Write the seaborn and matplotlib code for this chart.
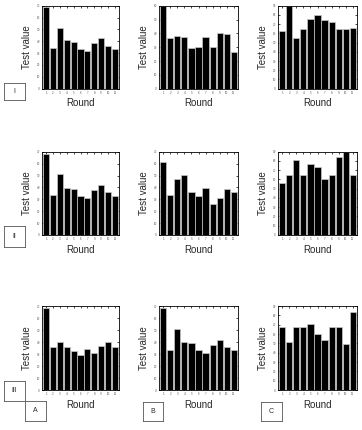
import numpy as np
import pandas as pd
import matplotlib
matplotlib.use("Agg")
import matplotlib.pyplot as plt
import seaborn as sns

# values, one list per panel (row I/II/III x column A/B/C)
rounds = [str(i) for i in range(1, 12)]

vals_I_A = [68.6, 34.6, 51.2, 40.8, 39.6, 33.5, 31.8, 38.8, 42.7, 36.0, 33.5]
vals_I_B = [60.0, 36.4, 38.3, 37.3, 29.2, 29.9, 37.3, 29.9, 40.5, 39.3, 26.5]
vals_I_C = [62.2, 90.0, 54.6, 64.3, 75.9, 79.9, 74.1, 71.9, 64.3, 64.3, 66.1]

vals_II_A = [68.0, 34.0, 51.0, 39.9, 39.0, 32.9, 31.0, 37.9, 42.1, 36.0, 32.9]
vals_II_B = [61.1, 34.0, 47.1, 50.2, 36.0, 32.9, 39.9, 25.9, 31.0, 39.0, 36.0]
vals_II_C = [55.9, 64.5, 81.4, 64.5, 76.4, 73.9, 60.6, 64.5, 84.6, 90.0, 64.5]

vals_III_A = [68.1, 35.6, 39.7, 35.6, 32.2, 29.2, 33.9, 31.1, 36.4, 39.7, 35.6]
vals_III_B = [68.1, 33.1, 50.8, 39.7, 38.9, 33.1, 31.1, 37.2, 41.9, 35.6, 33.1]
vals_III_C = [67.3, 51.7, 67.3, 67.3, 71.2, 60.2, 53.9, 67.3, 67.3, 49.6, 83.6]

# y-axis top for each column
ymax_I = [70, 60, 90]
ymax_II = [70, 70, 90]
ymax_III = [70, 70, 90]

row_labels = ["I", "II", "III"]
col_labels = ["A", "B", "C"]

panels = [
    [vals_I_A, vals_I_B, vals_I_C],
    [vals_II_A, vals_II_B, vals_II_C],
    [vals_III_A, vals_III_B, vals_III_C],
]
ymaxes = [ymax_I, ymax_II, ymax_III]

W, H = 362, 430
fig = plt.figure(figsize=(W / 100, H / 100), dpi=100)
sns.set_style("ticks")
plt.rcParams['font.family'] = ['Liberation Sans', 'DejaVu Sans']

# axes boxes in pixels: (left, top, right, bottom)
col_x = [(42, 119), (159, 238), (278, 357)]
row_y = [(5.7, 88.7), (151.7, 235), (306, 390)]


def px_axes(l, t, r, b):
    return fig.add_axes([l / W, 1 - b / H, (r - l) / W, (b - t) / H])


for i in range(3):
    for j in range(3):
        l, r = col_x[j]
        t, b = row_y[i]
        ax = px_axes(l, t, r, b)
        df = pd.DataFrame({"Round": rounds, "Test value": panels[i][j]})
        sns.barplot(data=df, x="Round", y="Test value", color="black",
                    saturation=1, width=0.88, edgecolor="#c8c8c8",
                    linewidth=0.5, ax=ax)
        top = ymaxes[i][j]
        ax.set_ylim(0, top)
        ax.set_xlim(-0.6, 10.6)
        ax.set_yticks(np.arange(0, top + 1, 10))
        ax.tick_params(direction="in", length=1.5, width=0.5, labelsize=2.2,
                       pad=1.5, top=True, right=True, colors="black",
                       labelcolor="#555555")
        for s in ax.spines.values():
            s.set_linewidth(0.6)
            s.set_color("black")
        ax.set_xlabel("Round", fontsize=7, labelpad=2.5)
        ax.set_ylabel("Test value", fontsize=7, labelpad=3.5)


def label_box(l, t, r, b, text):
    ax = px_axes(l, t, r, b)
    ax.set_xticks([])
    ax.set_yticks([])
    for s in ax.spines.values():
        s.set_linewidth(0.6)
        s.set_color("#555555")
    ax.text(0.5, 0.5, text, ha="center", va="center", fontsize=5,
            transform=ax.transAxes)


label_box(4, 83, 25, 100, "I")
label_box(4, 226, 25, 247, "II")
label_box(4, 381, 25, 401, "III")
label_box(25, 401, 46, 421, "A")
label_box(143, 402, 163, 421, "B")
label_box(261, 402, 282, 421, "C")

fig.savefig("out.png", dpi=100)
